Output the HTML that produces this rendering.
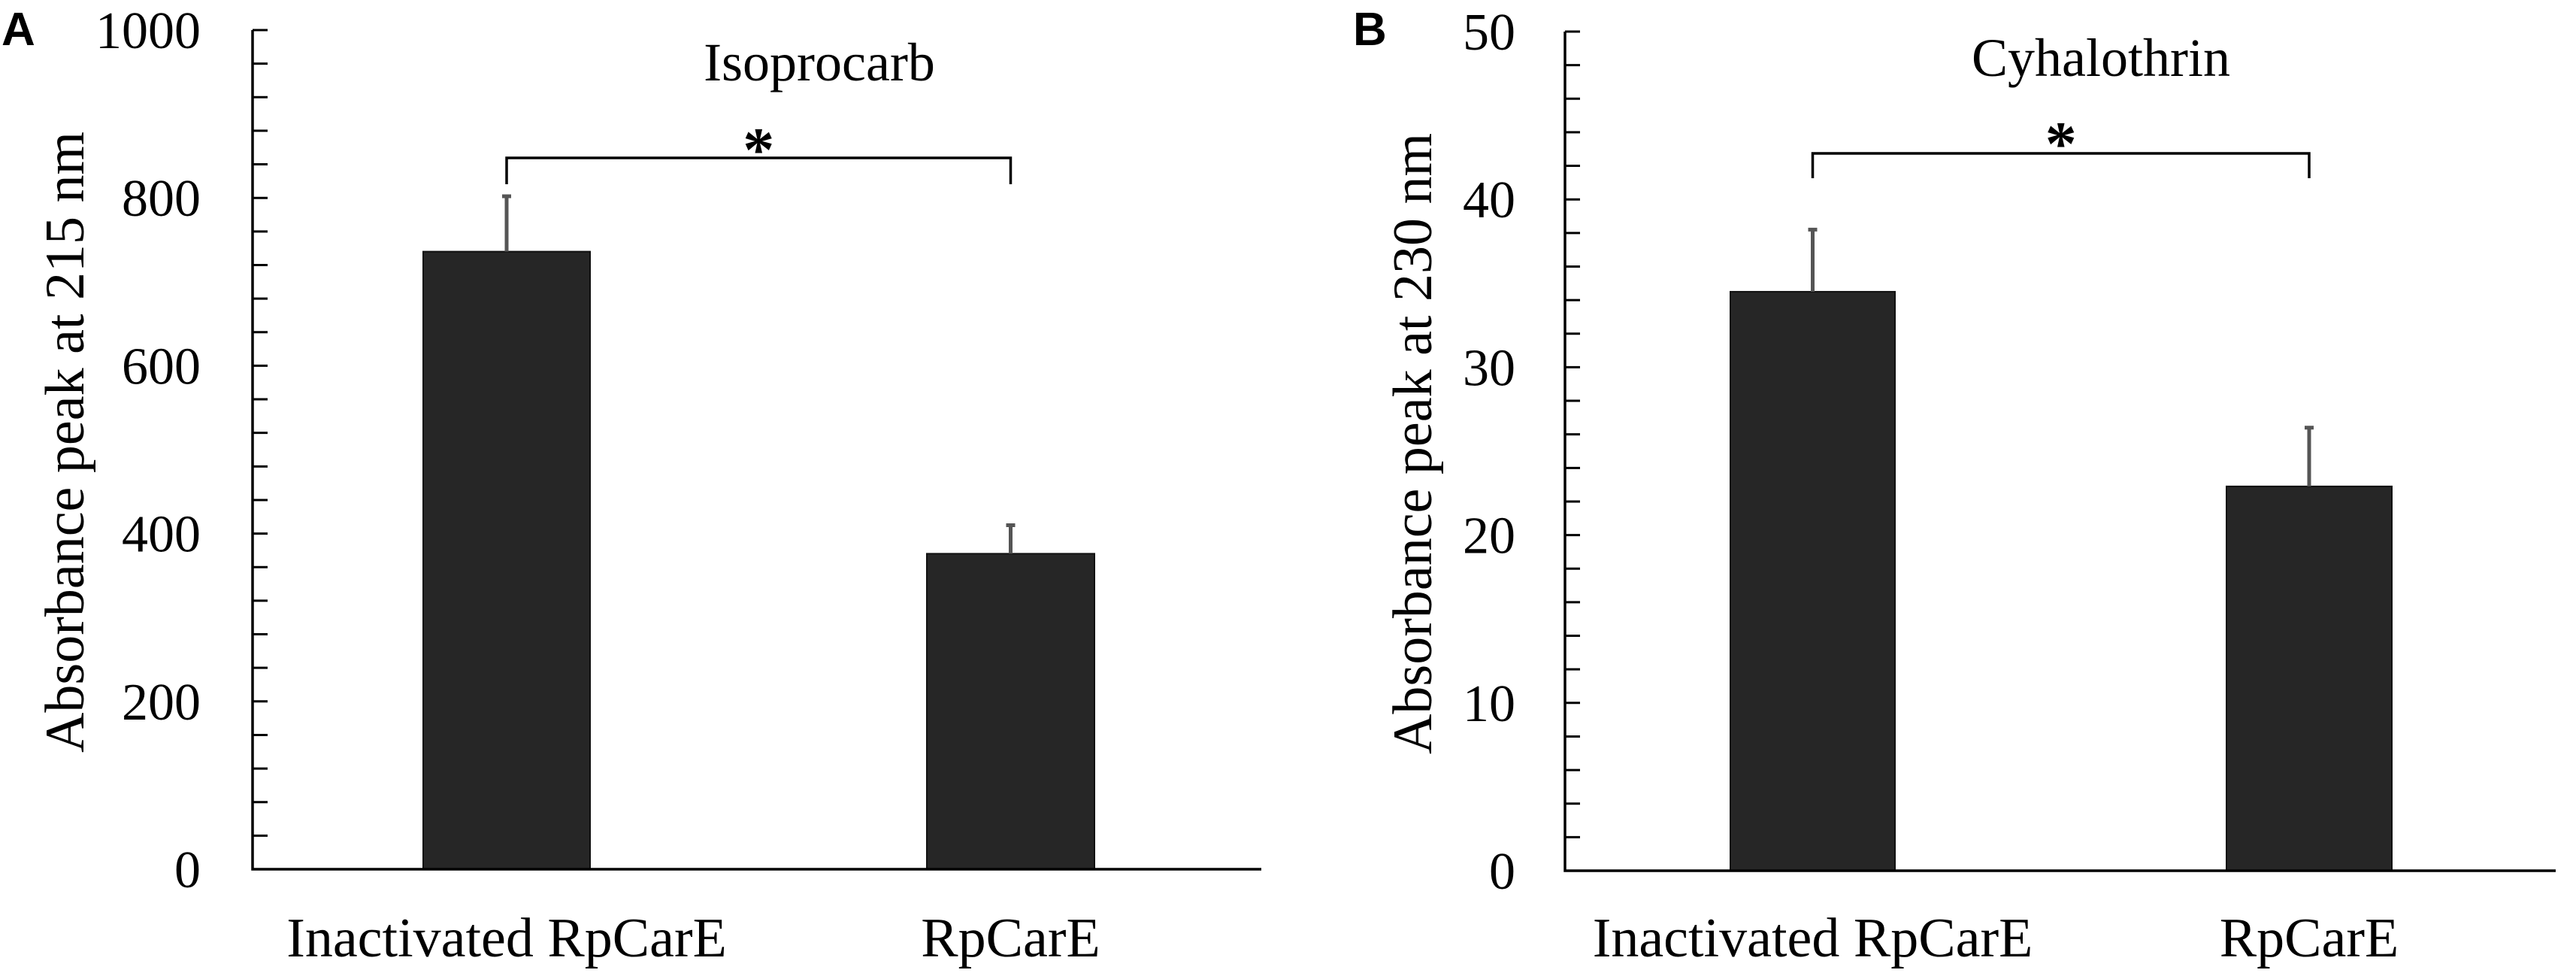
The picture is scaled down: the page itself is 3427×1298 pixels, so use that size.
<!DOCTYPE html>
<html><head><meta charset="utf-8"><style>
html,body{margin:0;padding:0;background:#fff;}
svg{display:block;}
text{font-family:"Liberation Serif",serif;fill:#000;}
</style></head><body>
<svg id="chart" width="3427" height="1298" viewBox="0 0 3427 1298" xmlns="http://www.w3.org/2000/svg">
<text x="2" y="60" style="font-family:'Liberation Sans',sans-serif;font-weight:bold;font-size:62px">A</text>
<text x="1800" y="60" style="font-family:'Liberation Sans',sans-serif;font-weight:bold;font-size:62px">B</text>
</svg>
<script>
const categories = ["Inactivated RpCarE", "RpCarE"];
const isoValues = [736, 376];
const isoErrors = [66, 34];
const isoTicks = [0, 200, 400, 600, 800, 1000];
const cyhValues = [34.5, 22.9];
const cyhErrors = [3.7, 3.5];
const cyhTicks = [0, 10, 20, 30, 40, 50];
const titles = ["Isoprocarb", "Cyhalothrin"];
const yTitles = ["Absorbance peak at 215 nm", "Absorbance peak at 230 nm"];

const NS = "http://www.w3.org/2000/svg";
const svg = document.getElementById("chart");
function mk(tag, attrs, parent) {
  const e = document.createElementNS(NS, tag);
  for (const k in attrs) e.setAttribute(k, attrs[k]);
  (parent || svg).appendChild(e);
  return e;
}
const panels = [
  {id:"a", ax:336, right:1678, top:40, base:1156, max:1000, minor:40, bars:[[563,785],[1233,1456]], labelRight:267, yTitleX:87, titleX:1090, titleY:83, brY:210, brDrop:245, starY:187, values:isoValues, errors:isoErrors, ticks:isoTicks},
  {id:"b", ax:2082, right:3400, top:42, base:1158, max:50, minor:2, bars:[[2302,2521],[2962,3182]], labelRight:2016, yTitleX:1880, titleX:2795, titleY:77, brY:204, brDrop:237, starY:179, values:cyhValues, errors:cyhErrors, ticks:cyhTicks}
];
panels.forEach((p, pi) => {
  const g = mk("g", {});
  
  
  const y = v => p.base - (v / p.max) * (p.base - p.top);
  p.values.forEach((v, i) => {
    const [x0, x1] = p.bars[i];
    const r = mk("rect", {x:x0, y:y(v), width:x1-x0, height:p.base-y(v), fill:"#262626", stroke:"#111", "stroke-width":2}, g);
    
    
    const cx = (x0 + x1) / 2;
    const eb = mk("path", {d:`M${cx},${y(v)}V${y(v+p.errors[i])}M${cx-6},${y(v+p.errors[i])}H${cx+6}`, stroke:"#555", "stroke-width":5, fill:"none"}, g);
    
    
    const lb = mk("text", {x:cx, y:1272, "text-anchor":"middle", "font-size":74}, g);
    lb.textContent = categories[i];
    
    
  });
  const axis = mk("path", {d:`M${p.ax},${p.top}V${p.base}H${p.right}`, stroke:"#000", "stroke-width":3.5, fill:"none"}, g);
  
  
  for (let v = 0; v <= p.max + 1e-9; v += p.minor) {
    const t = mk("line", {x1:p.ax, x2:p.ax+20, y1:y(v), y2:y(v), stroke:"#000", "stroke-width":3}, g);
    
    
  }
  p.ticks.forEach(v => {
    const t = mk("text", {x:p.labelRight, y:y(v)+24, "text-anchor":"end", "font-size":70}, g);
    t.textContent = v;
    
    
  });
  const yt = mk("text", {x:0, y:0, "text-anchor":"middle", "font-size":74, transform:`translate(${p.yTitleX+24},${(p.top+p.base)/2 - 10}) rotate(-90)`}, g);
  yt.textContent = yTitles[pi];
  
  
  const tt = mk("text", {x:p.titleX, y:p.titleY+24, "text-anchor":"middle", "font-size":72}, g);
  tt.textContent = titles[pi];
  
  
  const c1 = (p.bars[0][0]+p.bars[0][1])/2, c2 = (p.bars[1][0]+p.bars[1][1])/2;
  const br = mk("path", {d:`M${c1},${p.brDrop}V${p.brY}H${c2}V${p.brDrop}`, stroke:"#000", "stroke-width":3.5, fill:"none"}, g);
  
  
  const st = mk("text", {x:(c1+c2)/2, y:p.starY+40, "text-anchor":"middle", "font-size":84, "font-weight":"bold", "font-family":"Liberation Sans, sans-serif"}, g);
  st.textContent = "*";
  
  
});
</script>
</body></html>
